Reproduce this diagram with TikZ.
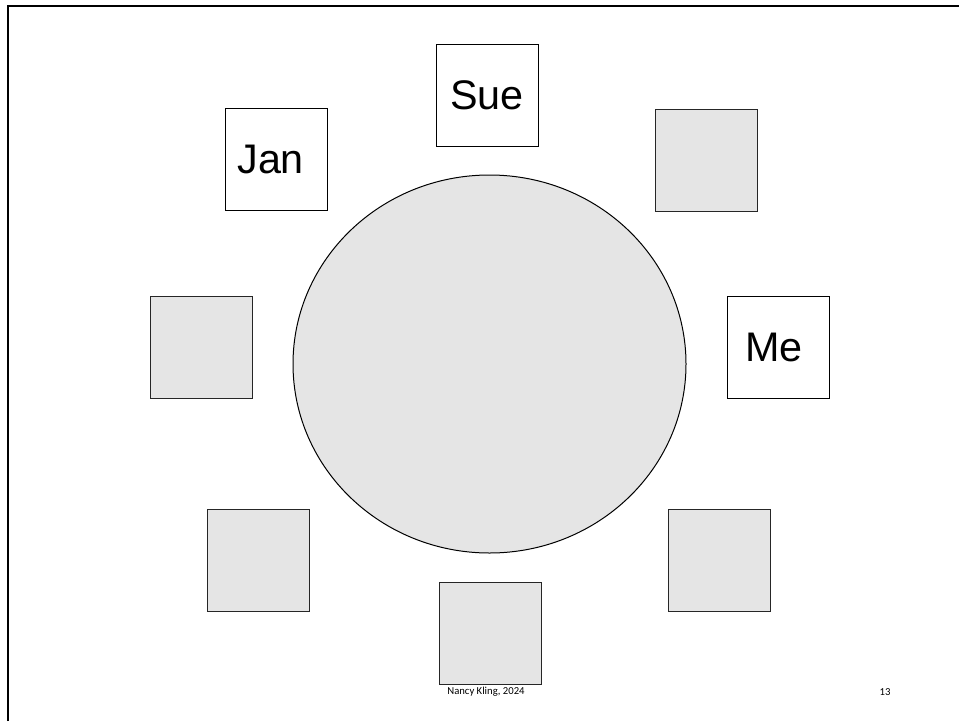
\documentclass[tikz,border=0pt]{standalone}
\usepackage{fontspec}
\setmainfont{Liberation Sans}
\newfontfamily\footerfont{Carlito}
\usetikzlibrary{shapes.geometric}

\tikzset{
    seat/.style={draw, line width=0.75pt, minimum size=76.5pt, inner sep=0pt, font=\fontsize{31}{35}\selectfont},
    emptyseat/.style={seat, draw=black!85, fill=black!10},
    tablebox/.style={draw, line width=0.75pt, fill=black!10, ellipse, minimum width=294.75pt, minimum height=283.5pt, inner sep=0pt},
    footer/.style={font=\footerfont\fontsize{8}{9.6}\selectfont, inner sep=0pt}
}

\begin{document}
\begin{tikzpicture}[x=0.75pt, y=-0.75pt]
            \useasboundingbox (0, 0) rectangle (959, 721);

            \coordinate (FL) at (8, 721);
            \coordinate (FT) at (8, 6);
            \coordinate (FR) at (959, 6);
            \draw[line width=2pt] (FL) -- (FT) -- (FR);

            \node[tablebox] (table) at (489.5, 364) {};

            \node[seat] (sue) at (487, 95) {Sue};
            \node[seat] (jan) at (276, 159.5) {\hspace{-8pt}Jan};
            \node[emptyseat] (nE) at (706, 160.5) {};
            \node[emptyseat] (west) at (201, 347.5) {};
            \node[seat] (me) at (778, 347.5) {\hspace{-6pt}Me};
            \node[emptyseat] (sW) at (258, 560.5) {};
            \node[emptyseat] (south) at (490, 633.5) {};
            \node[emptyseat] (sE) at (719, 560.5) {};

            \node[footer] (author) at (486, 692) {Nancy Kling, 2024};
            \node[footer] (page) at (885, 692) {13};
        \end{tikzpicture}
\end{document}
